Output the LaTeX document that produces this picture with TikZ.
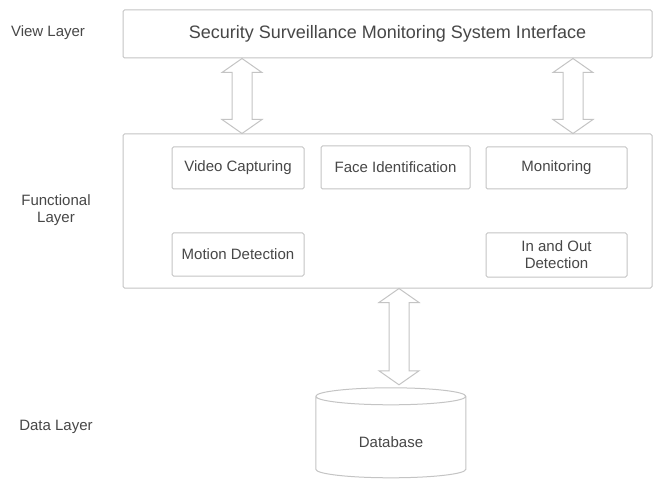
\documentclass[tikz,border=0pt]{standalone}
\usepackage{fontspec}
\setmainfont{Liberation Sans}
\usetikzlibrary{calc}
\definecolor{edge}{HTML}{C4C4C4}
\definecolor{ink}{HTML}{474747}
\tikzset{
  box/.style={draw=edge, line width=1pt, rounded corners=1.5pt, inner sep=2pt, text=ink, font=\fontsize{15}{17}\selectfont, align=center},
  lbl/.style={text=ink, font=\fontsize{15}{17}\selectfont, align=center},
  arrowline/.style={draw=edge, line width=1pt, line join=miter, fill=white},
}
\newcommand\dblarrow[2]{%
  \path[arrowline] let \p1=(#1), \p2=(#2) in
    (\x1,\y1) -- (\x1+20pt,\y1-14pt) -- (\x1+10pt,\y1-14pt) -- (\x1+10pt,\y2+14pt)
    -- (\x1+20pt,\y2+14pt) -- (\x1,\y2) -- (\x1-20pt,\y2+14pt) -- (\x1-10pt,\y2+14pt)
    -- (\x1-10pt,\y1-14pt) -- (\x1-20pt,\y1-14pt) -- cycle;}
\begin{document}
\begin{tikzpicture}[x=1pt,y=-1pt]
\useasboundingbox[fill=white] (0,0) rectangle (656,481);
% view layer
\node[box, minimum width=529pt, minimum height=48pt, font=\fontsize{18}{20}\selectfont] (view) at (387.5,34) {Security Surveillance Monitoring System Interface};
\node[lbl] (viewlbl) at (48,33) {View Layer};
% functional layer
\node[box, minimum width=529pt, minimum height=154pt] (func) at (387.5,211) {};
\node[lbl] (funclbl) at (56,210) {Functional\\Layer};
\node[box, minimum width=132pt, minimum height=42pt] (video) at (238,168) {Video Capturing};
\node[box, minimum width=149pt, minimum height=43pt] (face) at (395.5,167.5) {Face Identification};
\node[box, minimum width=141pt, minimum height=42pt] (mon) at (556.5,168) {Monitoring};
\node[box, minimum width=132pt, minimum height=43pt] (motion) at (238,254.5) {Motion Detection};
\node[box, minimum width=141pt, minimum height=44pt] (inout) at (556.5,255) {In and Out\\Detection};
% data layer
\node[lbl] (datalbl) at (56,427) {Data Layer};
\node[lbl, minimum width=150pt, minimum height=90pt] (db) at (391,433) {};
\node[lbl] (dbtext) at (391,442) {Database};
\draw[draw=edge, line width=1pt]
  (db.north west) ++(0,8.5) coordinate (cl)
  (cl) arc[start angle=180, end angle=360, x radius=75, y radius=8.5]
       arc[start angle=0, end angle=180, x radius=75, y radius=8.5]
  (cl) -- ++(0,73) arc[start angle=180, end angle=0, x radius=75, y radius=8.5] -- ++(0,-73);
% connector end points
\coordinate (a1t) at (view.south -| 242,0);
\coordinate (a1b) at (func.north -| 242,0);
\coordinate (a2t) at (view.south -| 573,0);
\coordinate (a2b) at (func.north -| 573,0);
\coordinate (a3t) at (func.south -| 399,0);
\coordinate (a3b) at ($(db.north -| 399,0)+(0,-3)$);
\dblarrow{a1t}{a1b}
\dblarrow{a2t}{a2b}
\dblarrow{a3t}{a3b}
\end{tikzpicture}
\end{document}
